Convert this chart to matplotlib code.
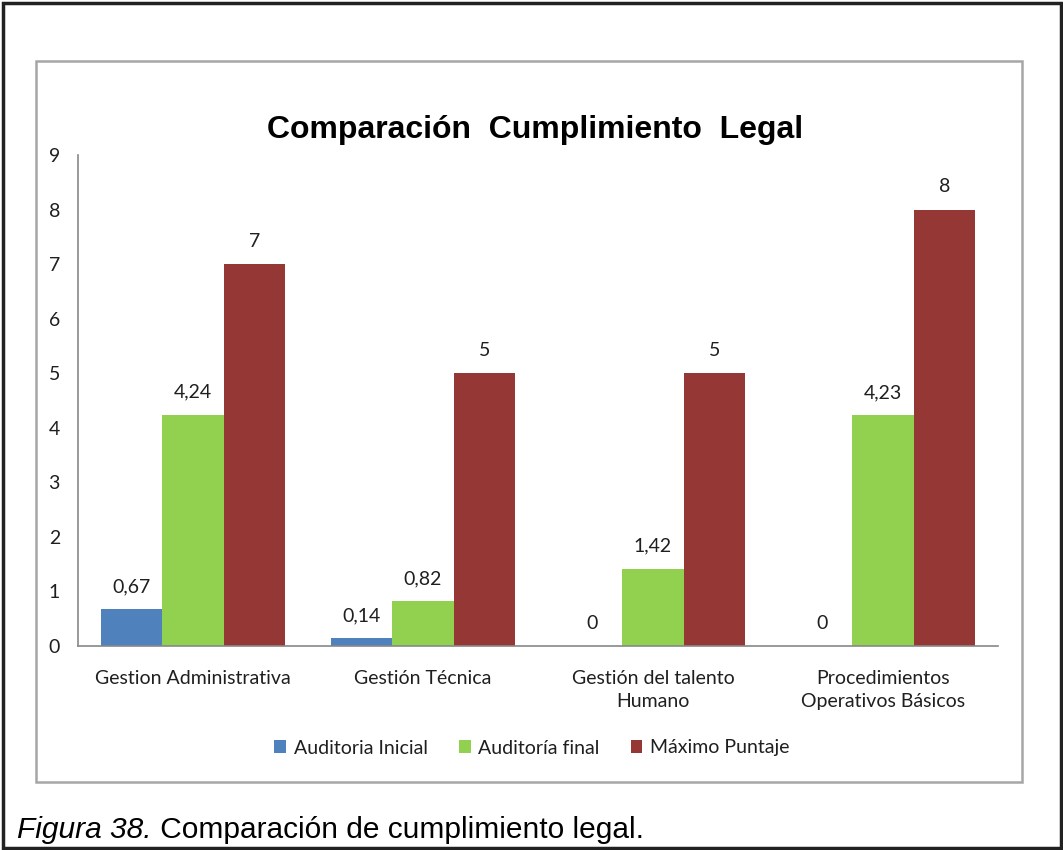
import numpy as np
import matplotlib.pyplot as plt
from matplotlib.patches import Rectangle

# ------------
# Data
# ------------
categorias = ["Gestion Administrativa", "Gestión Técnica",
              "Gestión del talento\nHumano", "Procedimientos\nOperativos Básicos"]
auditoria_inicial = [0.67, 0.14, 0, 0]
auditoria_final = [4.24, 0.82, 1.42, 4.23]
maximo_puntaje = [7, 5, 5, 8]

series = [("Auditoria Inicial", auditoria_inicial, "#4F81BD"),
          ("Auditoría final", auditoria_final, "#92D050"),
          ("Máximo Puntaje", maximo_puntaje, "#953735")]

chart_font = ["Lato", "DejaVu Sans"]
text_color = "#1f1f1f"
fs = 14

fig = plt.figure(figsize=(10.63, 8.5), dpi=100)

# outer black frame and gray chart box
fig.patches.append(Rectangle((2.5 / 1063, 2.5 / 850), 1 - 5 / 1063, 1 - 5 / 850,
                             transform=fig.transFigure, fill=False,
                             edgecolor="#222222", linewidth=2.5))
fig.patches.append(Rectangle((36 / 1063, 1 - 782 / 850), 986 / 1063, 721 / 850,
                             transform=fig.transFigure, fill=False,
                             edgecolor="#a6a6a6", linewidth=1.8))

ax = fig.add_axes([78 / 1063, 1 - 646 / 850, 920 / 1063, 491 / 850])

x = np.arange(len(categorias))
width = 0.267
for i, (name, vals, color) in enumerate(series):
    pos = x + (i - 1) * width
    bars = ax.bar(pos, vals, width, color=color, label=name)
    for b, v in zip(bars, vals):
        txt = f"{v:g}".replace(".", ",")
        ax.text(b.get_x() + b.get_width() / 2, v + 0.26, txt,
                ha="center", va="bottom", fontsize=fs,
                family=chart_font, color=text_color)

ax.set_xlim(-0.5, len(categorias) - 0.5)
ax.set_ylim(0, 9)
ax.set_yticks(range(0, 10))
ax.set_xticks(x)
ax.set_xticklabels(categorias, fontsize=fs, family=chart_font,
                   color=text_color, linespacing=1.45)
for lbl in ax.get_yticklabels():
    lbl.set_family(chart_font)
    lbl.set_fontsize(fs)
    lbl.set_color(text_color)
ax.tick_params(axis="both", length=0)
ax.tick_params(axis="y", pad=13)
ax.tick_params(axis="x", pad=17)
for side in ["top", "right"]:
    ax.spines[side].set_visible(False)
for side in ["left", "bottom"]:
    ax.spines[side].set_color("#888888")
    ax.spines[side].set_linewidth(1.2)

fig.text(535 / 1063, 1 - 130 / 850, "Comparación  Cumplimiento  Legal",
         ha="center", va="center", fontsize=23, fontweight="bold",
         family="Liberation Sans", color="black")

leg = ax.legend(loc="center", bbox_to_anchor=(532 / 1063, 1 - 748 / 850),
                bbox_transform=fig.transFigure, ncol=3, frameon=False,
                prop={"family": chart_font, "size": fs},
                handlelength=0.6, handleheight=0.6, handletextpad=0.4,
                columnspacing=1.6)
for t in leg.get_texts():
    t.set_color(text_color)

# caption: italic figure number followed by plain text
cap = fig.text(17 / 1063, 1 - 830 / 850, "Figura 38.", ha="left", va="center",
               fontsize=21.5, style="italic", family="Liberation Sans",
               color="black")
renderer = fig.canvas.get_renderer()
cap_end = cap.get_window_extent(renderer).x1 / fig.bbox.width
fig.text(cap_end, 1 - 830 / 850, " Comparación de cumplimiento legal.",
         ha="left", va="center", fontsize=21.5, family="Liberation Sans",
         color="black")

plt.savefig("out.png", dpi=100)
